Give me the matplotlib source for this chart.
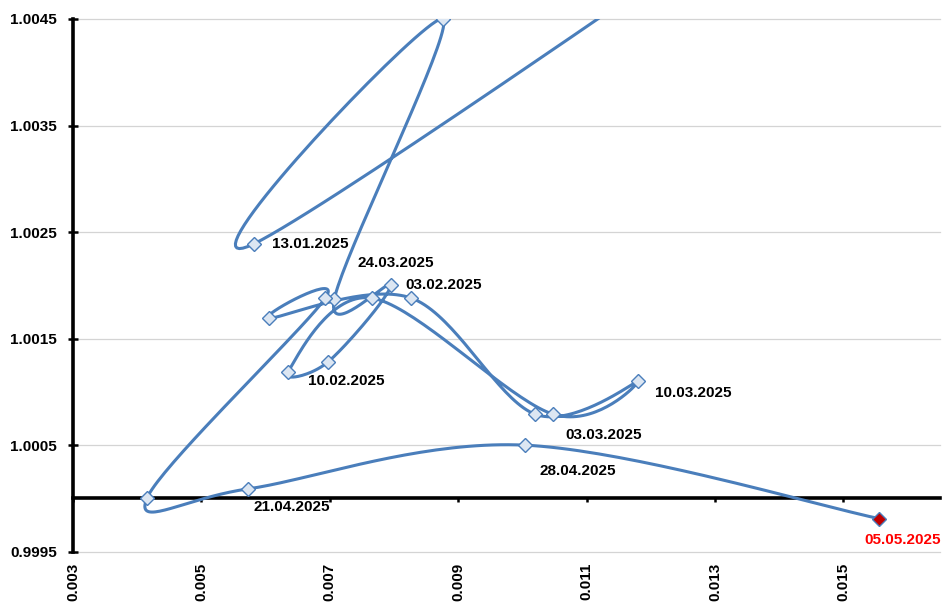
import numpy as np
import matplotlib
matplotlib.use("Agg")
from matplotlib import pyplot as plt

# weekly points, in drawing order (first one lies above the plot area)
x_vals = [0.0172, 0.00582, 0.00876, 0.00707, 0.00795, 0.00697, 0.00635, 0.00766, 0.01048,
          0.01180, 0.01020, 0.00827, 0.00605, 0.00693, 0.00415, 0.00573, 0.01004, 0.01556]
y_vals = [1.0070, 1.00239, 1.00450, 1.00187, 1.00200, 1.00128, 1.00119, 1.00188, 1.00079,
          1.00110, 1.00079, 1.00188, 1.00169, 1.00188, 1.00000, 1.00009, 1.00050, 0.99981]
point_labels = ['', '13.01.2025', '', '', '03.02.2025', '10.02.2025', '', '', '03.03.2025',
                '10.03.2025', '', '24.03.2025', '', '', '', '21.04.2025', '28.04.2025', '05.05.2025']

x_ticks = [0.003, 0.005, 0.007, 0.009, 0.011, 0.013, 0.015]
x_tick_labels = ['0.003', '0.005', '0.007', '0.009', '0.011', '0.013', '0.015']
y_ticks = [0.9995, 1.0005, 1.0015, 1.0025, 1.0035, 1.0045]
y_tick_labels = ['0.9995', '1.0005', '1.0015', '1.0025', '1.0035', '1.0045']

# label offsets in pixels (dx, dy downwards)
label_offsets = {1: (18, 0), 4: (15, 0), 5: (-20, 19), 8: (12, 21), 9: (17, 12),
                 11: (-54, -35), 15: (5, 18), 16: (15, 26), 17: (-15, 21)}

LINE = '#4A7EBB'
plt.rcParams['font.family'] = ['Liberation Sans', 'DejaVu Sans']


def smooth_path(ax, xs, ys, n=40):
    # Excel-like smoothed line: cubic bezier through points, done in pixel space
    pts = ax.transData.transform(np.column_stack([xs, ys]))
    ext = np.vstack([pts[0], pts, pts[-1]])
    out = []
    t = np.linspace(0, 1, n)[:, None]
    for i in range(len(pts) - 1):
        p0, p1, p2, p3 = ext[i], ext[i + 1], ext[i + 2], ext[i + 3]
        c1 = p1 + (p2 - p0) / 6
        c2 = p2 - (p3 - p1) / 6
        seg = (1 - t)**3 * p1 + 3 * (1 - t)**2 * t * c1 + 3 * (1 - t) * t**2 * c2 + t**3 * p2
        out.append(seg if i == 0 else seg[1:])
    return ax.transData.inverted().transform(np.vstack(out))


fig = plt.figure(figsize=(9.47, 6.08), dpi=100)
ax = fig.add_axes([0.0771, 0.0926, 0.9152, 0.8762])
ax.set_xlim(0.003, 0.0165)
ax.set_ylim(0.9995, 1.0045)

ax.set_yticks(y_ticks)
ax.set_yticklabels(y_tick_labels, fontsize=11, fontweight='bold')
ax.set_xticks(x_ticks)
ax.tick_params(axis='x', labelbottom=False, direction='out', length=3, width=1.8, color='black')
ax.tick_params(axis='y', direction='inout', length=7, width=1.8, pad=8)
ax.yaxis.grid(True, color='#D4D4D4', linewidth=0.9)
for gl in ax.get_ygridlines():
    gl.set_clip_on(False)
ax.set_axisbelow(True)

for s in ['top', 'right']:
    ax.spines[s].set_visible(False)
ax.spines['left'].set_linewidth(2.6)
ax.spines['bottom'].set_linewidth(2.6)
ax.spines['bottom'].set_position(('data', 1.0))
ax.spines['bottom'].set_zorder(1.5)

sec = ax.secondary_xaxis('bottom')
sec.set_xticks(x_ticks)
sec.set_xticklabels(x_tick_labels, fontsize=11, fontweight='bold', rotation=90)
sec.tick_params(length=0, pad=8)
sec.spines['bottom'].set_visible(False)

curve = smooth_path(ax, x_vals, y_vals)
ax.plot(curve[:, 0], curve[:, 1], color=LINE, linewidth=2.2, zorder=3, solid_capstyle='round')

ax.plot(x_vals[:-1], y_vals[:-1], linestyle='none', marker='D', markersize=7,
        markerfacecolor='#DCE6F2', markeredgecolor=LINE, markeredgewidth=1.0, zorder=4)
ax.plot(x_vals[-1:], y_vals[-1:], linestyle='none', marker='D', markersize=7,
        markerfacecolor='#C00000', markeredgecolor=LINE, markeredgewidth=1.0, zorder=4)

for i, lab in enumerate(point_labels):
    if not lab:
        continue
    dx, dy = label_offsets[i]
    col = 'red' if i == len(point_labels) - 1 else 'black'
    ax.annotate(lab, (x_vals[i], y_vals[i]), xytext=(dx * 0.72, -dy * 0.72),
                textcoords='offset points', ha='left', va='center',
                fontsize=11, fontweight='bold', color=col, zorder=5)

fig.savefig('out.png', dpi=100)
